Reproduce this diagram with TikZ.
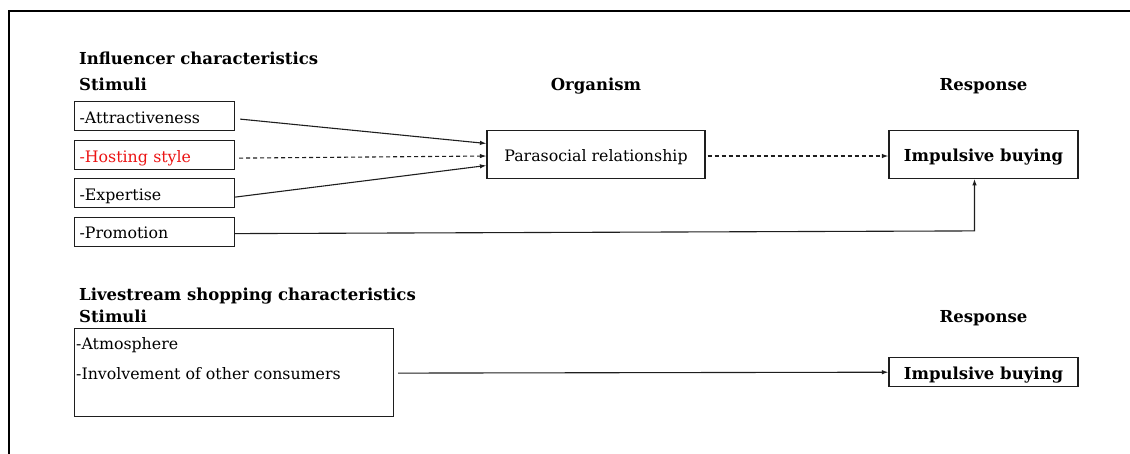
\documentclass[tikz,border=0pt]{standalone}
\usepackage{fontspec}
\setmainfont{DejaVu Serif}
\usetikzlibrary{arrows.meta,calc}
\definecolor{hostred}{RGB}{235,20,20}
\definecolor{ink}{RGB}{30,30,30}
\begin{document}
\begin{tikzpicture}[x=1pt,y=-1pt,
  body/.style={font=\fontsize{15.8}{18}\selectfont},
  boldtxt/.style={font=\fontsize{16.5}{18}\selectfont\bfseries},
  head/.style={boldtxt, inner sep=0pt},
  lowbox/.style={draw=ink, line width=1.2pt, inner xsep=5pt, inner ysep=0pt,
    text height=21.5pt, text depth=7.5pt},
  tallbox/.style={draw=ink, line width=1.2pt, inner ysep=0pt,
    text height=31pt, text depth=16.6pt},
  stim/.style={lowbox, body, anchor=north west, text width=150pt, align=left},
  arr/.style={draw=ink, line width=1.1pt, -{Latex[length=6.5pt,width=4.5pt]}},
  dasharr/.style={arr, dash pattern=on 4pt off 3pt}
]
\useasboundingbox (0,0) rectangle (1130,453);

% frame
\draw[line width=2.4pt, black] (1132,11) -- (9,11) -- (9,455);

% headings, upper row
\node[head, anchor=base west] (h1) at (79,64.5) {Influencer characteristics};
\node[head, anchor=base west] (s1) at (79,90) {Stimuli};
\node[head, anchor=base] (org) at (596,90) {Organism};
\node[head, anchor=base] (r1) at (983.5,90) {Response};

% stimulus boxes
\node[stim] (attr) at (74,101) {-Attractiveness};
\node[stim, text=hostred] (host) at (74,140) {-Hosting style};
\node[stim] (expe) at (74,178) {-Expertise};
\node[stim] (promo) at (74,216.5) {-Promotion};

% organism and response
\node[tallbox, body, minimum width=218pt] (para) at (596,154.5) {Parasocial relationship};
\node[tallbox, boldtxt, minimum width=189pt] (imp1) at (983.5,154.5) {Impulsive buying};

% connectors, upper row
\draw[arr] ($(attr.east)+(5,3)$) -- ($(para.west)+(0,-11)$);
\draw[dasharr] ($(host.east)+(4,3)$) -- ($(para.west)+(0,1.5)$);
\draw[arr] ($(expe.east)+(0,4)$) -- ($(para.west)+(0,11)$);
\draw[dasharr] ($(para.east)+(2,1.5)$) -- ($(imp1.west)+(0,1.5)$);
\coordinate (turn) at ($(imp1.south)+(-9,52)$);
\draw[arr] ($(promo.east)+(0,2)$) -- (turn) -- ($(imp1.south)+(-9,0)$);

% headings, lower row
\node[head, anchor=base west] (h2) at (79,300) {Livestream shopping characteristics};
\node[head, anchor=base west] (s2) at (79,322) {Stimuli};
\node[head, anchor=base] (r2) at (983.5,322.5) {Response};

% livestream box
\node[draw=ink, line width=1.2pt, minimum width=319pt, minimum height=88pt, inner sep=0pt, anchor=north west] (ls) at (74,328) {};
\node[body, inner sep=0pt, anchor=base west] (atm) at (76,349) {-Atmosphere};
\node[body, inner sep=0pt, anchor=base west] (inv) at (76,379) {-Involvement of other consumers};

\node[lowbox, boldtxt, minimum width=189pt] (imp2) at (983.5,372.2) {Impulsive buying};

\draw[arr] ($(ls.east)+(4,0.5)$) -- (imp2.west);
\end{tikzpicture}
\end{document}
